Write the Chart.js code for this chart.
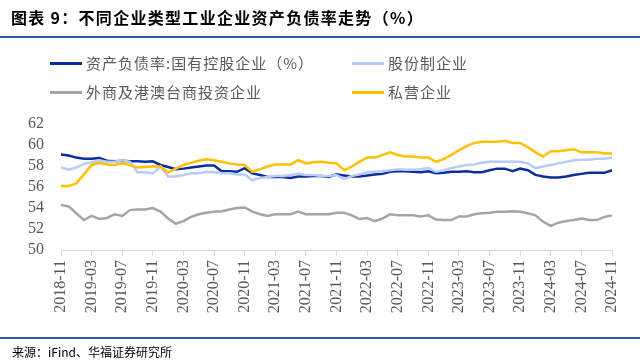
<!DOCTYPE html>
<html>
<head>
<meta charset="utf-8">
<script src="https://cdn.jsdelivr.net/npm/chart.js@4.4.1/dist/chart.umd.min.js"></script>
<style>
  html, body { margin: 0; padding: 0; background: #fff; }
  #wrap { position: relative; width: 640px; height: 363px; overflow: hidden; }
  #chart { position: absolute; left: 0; top: 0; }
  .title { position: absolute; left: 11px; top: 5px; font: bold 16px "Noto Sans CJK SC", sans-serif; color: #000; letter-spacing: 1.3px; white-space: nowrap; }
  .rule { position: absolute; left: 0; width: 640px; height: 2px; background: #2B58A6; }
  .legend-item { position: absolute; font: 15px "Noto Sans CJK SC", serif; color: #595959; white-space: nowrap; letter-spacing: 1px; height: 20px; line-height: 20px; }
  .legend-item i { display: inline-block; width: 32px; height: 3px; vertical-align: middle; margin-right: 4px; position: relative; top: -1px; }
  .source { position: absolute; left: 12px; top: 343px; font: 12px "Noto Sans CJK SC", serif; color: #000; white-space: nowrap; }
</style>
</head>
<body>
<div id="wrap">
  <canvas id="chart" width="640" height="363"></canvas>
  <div class="title">图表 9：不同企业类型工业企业资产负债率走势（%）</div>
  <div class="rule" style="top:36px"></div>
  <div id="legend"></div>
  <div class="rule" style="top:337px"></div>
  <div class="source">来源：iFind、华福证券研究所</div>
</div>
<script>
// Monthly categories 2018-11 .. 2024-11
const months = [];
for (let y = 2018, m = 11; y < 2024 || (y === 2024 && m <= 11); m++) {
  if (m > 12) { m = 1; y++; }
  months.push(y + '-' + String(m).padStart(2, '0'));
}

const yTicks = [50, 52, 54, 56, 58, 60, 62];

// 国有控股企业
const soe = [
  59.1, 59.0, 58.8, 58.7, 58.7, 58.75, 58.5, 58.45, 58.5, 58.45, 58.45, 58.4, 58.45, 58.1, 57.9, 57.7,
  57.75, 57.85, 57.95, 58.05, 58.05, 57.5, 57.5, 57.45, 57.8, 57.3, 57.15, 56.95, 56.95, 56.95, 56.85, 57.0,
  57.0, 57.05, 57.05, 56.95, 57.2, 57.1, 57.0, 57.0, 57.1, 57.2, 57.25, 57.45, 57.5, 57.5, 57.45, 57.4,
  57.5, 57.3, 57.35, 57.45, 57.45, 57.5, 57.4, 57.4, 57.6, 57.75, 57.75, 57.5, 57.75, 57.6, 57.15, 57.0,
  56.9, 56.9, 57.0, 57.15, 57.25, 57.35, 57.35, 57.35, 57.6
];

// 股份制企业
const jointStock = [
  57.85, 57.65, 57.85, 58.2, 58.35, 58.55, 58.4, 58.4, 58.55, 58.4, 57.4, 57.4, 57.3, 57.95, 57.0, 57.0,
  57.15, 57.3, 57.3, 57.45, 57.4, 57.3, 57.3, 57.2, 57.2, 56.65, 56.85, 56.95, 57.05, 57.05, 57.15, 57.25,
  57.15, 57.15, 57.05, 57.05, 57.15, 56.75, 57.05, 57.2, 57.4, 57.45, 57.5, 57.6, 57.7, 57.65, 57.65, 57.7,
  57.8, 57.45, 57.6, 57.8, 57.95, 58.1, 58.15, 58.3, 58.4, 58.4, 58.4, 58.4, 58.4, 58.25, 57.8, 57.95,
  58.1, 58.25, 58.4, 58.55, 58.6, 58.6, 58.7, 58.7, 58.8
];

// 外商及港澳台商投资企业
const foreign = [
  54.3, 54.15, 53.5, 52.85, 53.25, 52.95, 53.05, 53.4, 53.25, 53.8, 53.85, 53.85, 54.0, 53.65, 53.0, 52.5,
  52.75, 53.15, 53.4, 53.55, 53.65, 53.7, 53.85, 54.0, 54.05, 53.65, 53.4, 53.25, 53.4, 53.4, 53.4, 53.65,
  53.4, 53.4, 53.4, 53.4, 53.55, 53.55, 53.3, 52.95, 53.05, 52.75, 53.0, 53.4, 53.3, 53.3, 53.3, 53.2,
  53.3, 52.9, 52.85, 52.85, 53.2, 53.2, 53.4, 53.5, 53.55, 53.65, 53.65, 53.7, 53.65, 53.5, 53.3, 52.7,
  52.3, 52.6, 52.75, 52.85, 53.0, 52.85, 52.85, 53.15, 53.3
];

// 私营企业
const privateEnt = [
  56.1, 56.1, 56.35, 57.2, 58.1, 58.3, 58.15, 58.1, 58.25, 58.1, 57.85, 57.9, 57.95, 57.95, 57.4, 57.75,
  58.1, 58.3, 58.5, 58.65, 58.55, 58.4, 58.25, 58.15, 58.1, 57.45, 57.7, 57.95, 58.15, 58.15, 58.15, 58.55,
  58.25, 58.35, 58.4, 58.3, 58.25, 57.6, 57.95, 58.4, 58.8, 58.8, 59.05, 59.3, 59.05, 58.9, 58.9, 58.8,
  58.8, 58.4, 58.65, 59.05, 59.5, 59.9, 60.2, 60.3, 60.3, 60.3, 60.4, 60.2, 60.2, 59.8, 59.3, 58.9,
  59.4, 59.4, 59.5, 59.6, 59.3, 59.3, 59.3, 59.2, 59.2
];

const series = [
  { label: '资产负债率:国有控股企业（%）', data: soe, color: '#0A2E9C', x: 50, y: 53 },
  { label: '股份制企业', data: jointStock, color: '#B8CCF5', x: 352, y: 53 },
  { label: '外商及港澳台商投资企业', data: foreign, color: '#A5A5A5', x: 50, y: 82 },
  { label: '私营企业', data: privateEnt, color: '#FFC000', x: 352, y: 82 }
];

// HTML legend
const legend = document.getElementById('legend');
series.forEach(s => {
  const el = document.createElement('div');
  el.className = 'legend-item';
  el.style.left = s.x + 'px';
  el.style.top = s.y + 'px';
  el.innerHTML = `<i style="background:${s.color}"></i>${s.label}`;
  legend.appendChild(el);
});

const tickFont = { family: '"Liberation Serif", "Times New Roman", serif', size: 16 };

// draw order: grey, yellow, light blue, dark blue on top
const drawOrder = [2, 3, 1, 0];

new Chart('chart', {
  type: 'line',
  data: {
    labels: months,
    datasets: drawOrder.map(i => ({
      label: series[i].label,
      data: series[i].data,
      borderColor: series[i].color,
      backgroundColor: series[i].color,
      borderWidth: 2.5,
      pointRadius: 0,
      tension: 0,
      fill: false
    }))
  },
  options: {
    responsive: false,
    animation: false,
    layout: { padding: { left: 0, right: 28, top: 124, bottom: 0 } },
    plugins: { legend: { display: false }, tooltip: { enabled: false } },
    scales: {
      x: {
        offset: false,
        afterFit: scale => { scale.height = 113; },
        grid: {
          drawOnChartArea: false,
          drawTicks: true,
          tickLength: 6,
          color: ctx => (ctx.index % 4 === 0 ? '#D9D9D9' : 'rgba(0,0,0,0)')
        },
        border: { display: true, color: '#D9D9D9', width: 1 },
        ticks: {
          autoSkip: false,
          maxRotation: 90,
          minRotation: 90,
          padding: 4,
          color: '#595959',
          font: tickFont,
          callback: (val, idx) => (idx % 4 === 0 ? months[idx] : '')
        }
      },
      y: {
        min: yTicks[0],
        max: yTicks[yTicks.length - 1],
        afterFit: scale => { scale.width = 61; },
        afterBuildTicks: scale => { scale.ticks = yTicks.map(v => ({ value: v })); },
        grid: { display: false, drawTicks: false },
        border: { display: false },
        ticks: {
          autoSkip: false,
          padding: 17,
          color: '#595959',
          font: tickFont
        }
      }
    }
  }
});
</script>
</body>
</html>
